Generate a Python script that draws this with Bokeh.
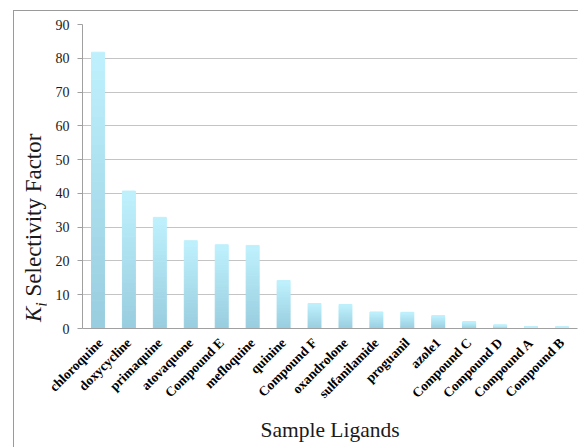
import math
from bokeh.plotting import figure
from bokeh.models import ColumnDataSource, FixedTicker, Div, Title
from bokeh.layouts import row
from bokeh.embed import file_html
from bokeh.resources import INLINE

ligands = ["chloroquine", "doxycycline", "primaquine", "atovaquone", "Compound E",
           "mefloquine", "quinine", "Compound F", "oxandrolone", "sulfanilamide",
           "proguanil", "azole1", "Compound C", "Compound D", "Compound A", "Compound B"]
selectivity = [81.8, 40.7, 32.9, 26.0, 24.8, 24.6, 14.2, 7.4, 7.1, 4.9, 4.8, 3.8, 2.0, 1.0, 0.5, 0.4]
y_ticks = [0, 10, 20, 30, 40, 50, 60, 70, 80, 90]

# vertical gradient per bar (light top, darker bottom)
bottom_rgb = (0x98, 0xcd, 0xdf)
top_rgb = (0xbf, 0xf1, 0xfd)
N = 30
xs, bots, tops, cols = [], [], [], []
for name, v in zip(ligands, selectivity):
    for k in range(N):
        t = (k + 0.5) / N
        c = tuple(int(round(b + (tp - b) * t)) for b, tp in zip(bottom_rgb, top_rgb))
        xs.append(name)
        bots.append(v * k / N)
        tops.append(v * (k + 1) / N)
        cols.append("#%02x%02x%02x" % c)
src = ColumnDataSource(dict(x=xs, bottom=bots, top=tops, color=cols))

p = figure(x_range=ligands, y_range=(0, 90), width=532, height=436,
           output_backend="svg", toolbar_location=None,
           min_border_left=36, min_border_top=13, min_border_bottom=118, min_border_right=1)
p.outline_line_color = None
p.background_fill_color = "white"
p.border_fill_color = "white"

p.vbar(x="x", bottom="bottom", top="top", width=0.42, color="color", source=src)

p.xgrid.grid_line_color = None
p.ygrid.grid_line_color = "#c4c4c4"
p.ygrid.grid_line_width = 1

p.yaxis.ticker = FixedTicker(ticks=y_ticks)
p.yaxis.minor_tick_line_color = None
p.yaxis.major_tick_out = 5
p.yaxis.major_tick_in = 0
p.yaxis.major_tick_line_color = "#a0a0a0"
p.yaxis.axis_line_color = "#a0a0a0"
p.yaxis.major_label_text_font = "Liberation Serif"
p.yaxis.major_label_text_font_size = "14px"
p.yaxis.major_label_text_color = "#1a1a1a"
p.yaxis.major_label_standoff = 8

p.xaxis.major_tick_line_color = None
p.xaxis.minor_tick_line_color = None
p.xaxis.axis_line_color = "#a0a0a0"
p.xaxis.major_label_orientation = math.pi / 4
p.xaxis.major_label_text_font = "Liberation Serif"
p.xaxis.major_label_text_font_style = "bold"
p.xaxis.major_label_text_font_size = "13.5px"
p.xaxis.major_label_text_color = "black"
p.xaxis.major_label_standoff = 6

p.add_layout(Title(text="Sample Ligands", align="center", standoff=12,
                   text_font="Liberation Serif", text_font_style="normal",
                   text_font_size="21.5px", text_color="#1a1a1a"), "below")

ytitle_html = (
    '<div style="position:relative;width:32px;height:436px;">'
    '<div style="position:absolute;left:8px;top:311px;transform:rotate(-90deg);'
    'transform-origin:0 0;white-space:nowrap;font-family:\'Liberation Serif\',serif;'
    'font-size:23px;line-height:23px;color:#1a1a1a;">'
    '<i>K</i><sub style="font-size:16px;line-height:0;"><i>i</i></sub> Selectivity Factor'
    '</div></div>'
)
ytitle = Div(text=ytitle_html, width=32, height=436, margin=(0, 0, 0, 0))

layout = row(ytitle, p, spacing=0)
layout.styles = {"margin-left": "13px", "margin-top": "10px",
                 "border-left": "1px solid #9a9a9a", "border-top": "1px solid #9a9a9a"}

open("out.html", "w").write(file_html(layout, INLINE))
